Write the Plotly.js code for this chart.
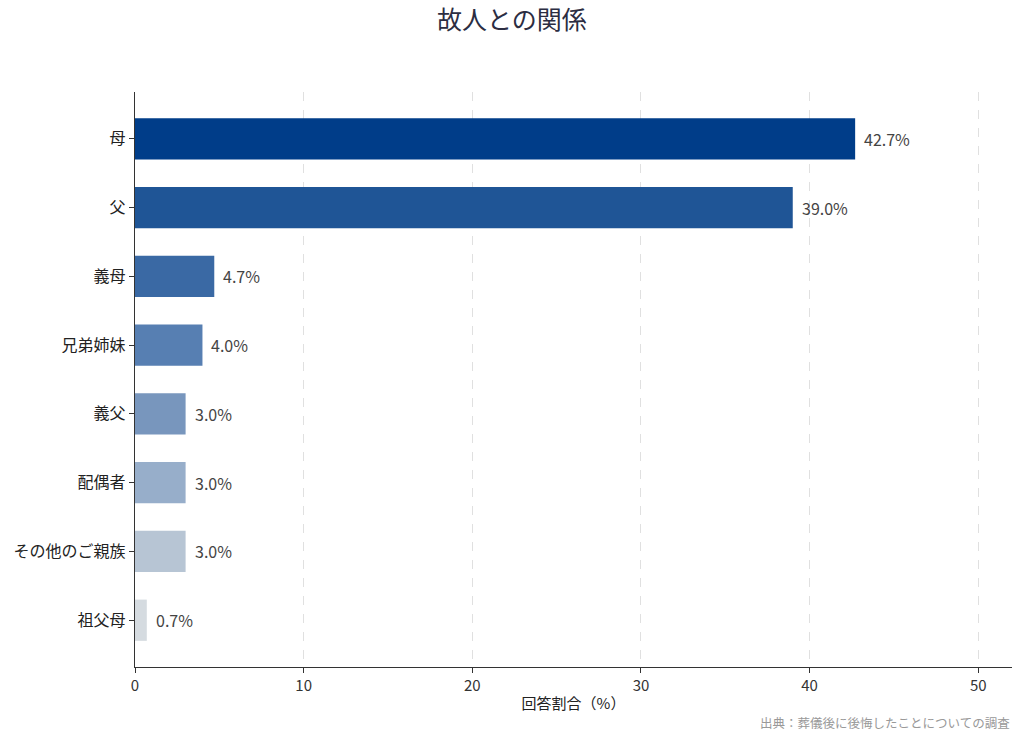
<!DOCTYPE html>
<html>
<head>
<meta charset="utf-8">
<script src="https://cdn.plot.ly/plotly-3.0.1.min.js"></script>
<style>html,body{margin:0;padding:0;background:#fff;}#chart{width:1024px;height:739px;}</style>
</head>
<body>
<div id="chart"></div>
<script>
const categories = ["母", "父", "義母", "兄弟姉妹", "義父", "配偶者", "その他のご親族", "祖父母"];
const values = [42.7, 39.0, 4.7, 4.0, 3.0, 3.0, 3.0, 0.7];
const barColors = ["#003d89", "#1f5596", "#3a69a4", "#577fb2", "#7896bd", "#97aeca", "#b7c5d4", "#d5dbe0"];
const xTicks = [0, 10, 20, 30, 40, 50];

const font = "'Noto Sans CJK JP', 'Noto Sans', sans-serif";

const trace = {
  type: "bar",
  orientation: "h",
  x: values,
  y: categories,
  width: 0.6,
  marker: {color: barColors, line: {width: 0}},
  hoverinfo: "none"
};

const labelAnnotations = categories.map((c, i) => ({
  x: values[i], y: c, xref: "x", yref: "y",
  text: values[i].toFixed(1) + "%",
  xanchor: "left", yanchor: "middle", xshift: 7,
  showarrow: false,
  font: {family: font, size: 16, color: "#444444"}
}));

const layout = {
  width: 1024, height: 739,
  margin: {l: 135, r: 12, t: 92, b: 72},
  paper_bgcolor: "#ffffff",
  plot_bgcolor: "#ffffff",
  showlegend: false,
  font: {family: font, color: "#333333"},
  title: {text: "故人との関係", x: 0.5, xanchor: "center", y: 0.972, yanchor: "middle",
          font: {family: font, size: 25, color: "#2b2d42"}},
  xaxis: {
    range: [0, 52],
    tickvals: xTicks,
    ticktext: xTicks.map(String),
    ticks: "outside", ticklen: 5, tickcolor: "#333333",
    showline: true, linecolor: "#333333", linewidth: 1.2,
    showgrid: true, gridcolor: "#e0e0e0", griddash: "dash", gridwidth: 1,
    zeroline: false,
    tickfont: {family: font, size: 15, color: "#333333"},
    title: {text: "回答割合（%）", font: {family: font, size: 15, color: "#222222"}, standoff: 4}
  },
  yaxis: {
    type: "category",
    categoryorder: "array",
    categoryarray: categories,
    range: [7.68, -0.68],
    ticks: "outside", ticklen: 5, tickcolor: "#333333",
    showline: true, linecolor: "#333333", linewidth: 1.2,
    showgrid: false, zeroline: false,
    tickfont: {family: font, size: 16, color: "#222222"}
  },
  annotations: labelAnnotations.concat([{
    text: "出典：葬儀後に後悔したことについての調査",
    xref: "paper", yref: "paper", x: 1.0, y: 0, xanchor: "right", yanchor: "top",
    yshift: -44, showarrow: false,
    font: {family: font, size: 12.5, color: "#999999"}
  }]),
  bargap: 0.4
};

Plotly.newPlot("chart", [trace], layout, {displayModeBar: false, staticPlot: true});
</script>
</body>
</html>
